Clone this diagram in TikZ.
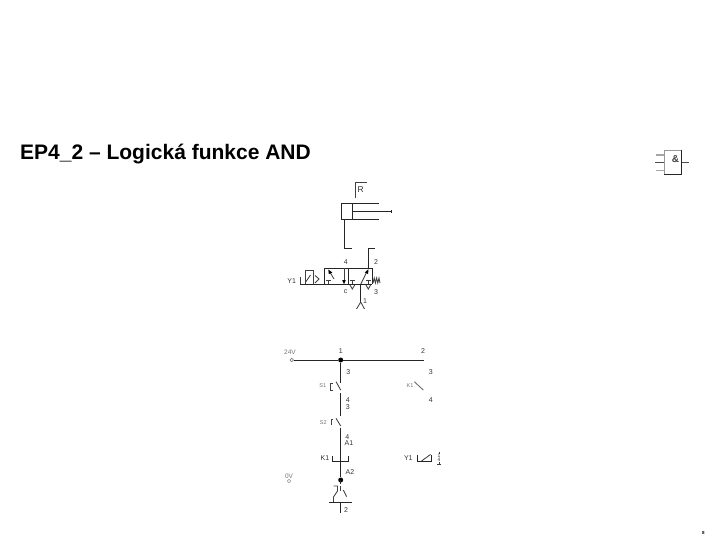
\documentclass[tikz,border=0pt]{standalone}
\usepackage{fontspec}
\setmainfont{Liberation Sans}
\tikzset{
  wire/.style={line width=1pt,color=black!85},
  thin wire/.style={line width=0.85pt,color=black!75},
  lbl/.style={inner sep=0pt,font=\fontsize{7}{8}\selectfont,text=black!80},
  faint/.style={inner sep=0pt,font=\fontsize{5.5}{6}\selectfont,text=black!55},
  junction/.style={circle,fill=black,inner sep=0pt,minimum size=5pt},
}
\begin{document}
\begin{tikzpicture}[x=1pt,y=-1pt]
\useasboundingbox (0,0) rectangle (720,540);
\node[anchor=west,inner sep=0pt,font=\fontsize{21}{24}\selectfont\bfseries] (title) at (20,154) {EP4\_2 – Logická funkce AND};
% AND gate
\draw[line width=1.2pt,color=black!35] (656,155) -- (664.3,155) (656,170.7) -- (664.3,170.7);
\draw[line width=1.2pt,color=black!70] (655,162.7) -- (664.3,162.7);
\draw[line width=1.2pt,color=black!70] (681,162.7) -- (689,162.7);
\draw[line width=0.8pt,color=black!40] (664.3,175) -- (664.3,150) -- (681,150);
\draw[line width=1pt,color=black!85] (681,150) -- (681,175) -- (664.3,175);
\node[inner sep=0pt,font=\fontsize{10}{11}\selectfont\bfseries,text=black!75] (andsign) at (675.5,159) {\&};
% cylinder
\draw[thin wire] (355.3,197.7) -- (355.3,182) -- (366.7,182);
\node[lbl,font=\fontsize{8.5}{9}\selectfont] (rlabel) at (360.7,189.7) {R};
\draw[wire] (379,204) -- (341.3,204) -- (341.3,219.3) -- (379,219.3);
\draw[wire] (352.7,204) -- (352.7,219.3);
\draw[wire] (352.7,211.7) -- (391.7,211.7) (391.7,210) -- (391.7,213);
\draw[wire] (344,219.3) -- (344,248) -- (351.7,248);
\draw[wire] (368.3,268.3) -- (368.3,248) -- (375.3,248);
% valve
\draw[wire] (300,284.3) -- (372.3,284.3);
\draw[wire] (324.3,284.3) -- (324.3,268.3) -- (372.3,268.3) -- (372.3,284.3);
\draw[wire] (348.3,268.3) -- (348.3,284.3);
\draw[thin wire] (300.7,276.7) -- (300.7,284.3);
\draw[thin wire] (305.7,284.3) -- (305.7,270.7) -- (313,270.7) -- (313,284.3);
\draw[thin wire] (305.7,282) -- (310.5,275);
\draw[thin wire] (315,275.5) -- (319,279) -- (315,283);
\draw[thin wire] (334,279) -- (329.5,271.5);
\fill[black] (328.3,269.5) -- (332.3,272.5) -- (328.8,274.2) -- cycle;
\draw[thin wire] (328.3,284.3) -- (328.3,280) (325.8,280) -- (331,280);
\draw[thin wire] (344,268.3) -- (344,282);
\fill[black] (344,284.3) -- (342.2,280) -- (345.8,280) -- cycle;
\draw[thin wire] (352.3,284.3) -- (352.3,280) (349.8,280) -- (354.8,280);
\draw[thin wire] (350,285) -- (352.3,289) -- (354.8,285);
\draw[thin wire] (360.7,284.3) -- (366.5,272.5);
\fill[black] (368.3,269.3) -- (368.2,274.2) -- (364.8,272.5) -- cycle;
\draw[thin wire] (368.3,284.3) -- (368.3,280) (365.8,280) -- (370.8,280);
\draw[thin wire] (366,285) -- (368.3,289) -- (370.6,285);
\draw[thin wire] (373,283) -- (374.2,278) -- (375.4,283) -- (376.6,278) -- (377.8,283) -- (379,278) -- (380,283);
\draw[wire] (360.7,284.3) -- (360.7,301.7);
\draw[thin wire] (356.5,309) -- (360.7,302) -- (364.5,309);
\node[lbl] (vy) at (291.7,281) {Y1};
\node[lbl] (vfour) at (345.7,262.3) {4};
\node[lbl] (vtwo) at (376,262.3) {2};
\node[lbl] (vc) at (345.7,291.7) {c};
\node[lbl] (vthree) at (376,291.7) {3};
\node[lbl] (vone) at (365,301) {1};
% electrical
\node[faint,font=\fontsize{6.5}{7}\selectfont] (plus) at (290,352.3) {24V};
\node[draw=black!60,circle,inner sep=0pt,minimum size=3.5pt,line width=.6pt] (term) at (291.7,360) {};
\node[junction] (j1) at (340.7,360) {};
\coordinate (r2) at (424,360);
\draw[wire] (term) -- (j1) -- (r2);
\node[lbl] (a1) at (340.7,351) {1};
\node[lbl] (a2) at (423,351) {2};
\coordinate (s1a) at (340.7,383.3);
\draw[wire] (j1) -- (s1a);
\node[lbl] (s1t) at (348.3,372.3) {3};
\draw[thin wire] (336,381.7) -- (340.7,390);
\draw[thin wire] (333,383.3) -- (330.5,383.3) -- (330.5,390) -- (333,390);
\node[faint] (s1) at (322.7,386) {S1};
\draw[wire] (340.7,393) -- (340.7,416);
\node[lbl] (s1b) at (347.7,400) {4};
\node[lbl] (s2t) at (347.7,407.3) {3};
\draw[thin wire] (336,418.3) -- (340.7,426);
\draw[thin wire] (331,425) -- (331,419.3) -- (333.3,419.3);
\node[faint] (s2) at (323.3,422.3) {S2};
\draw[wire] (340.7,427.7) -- (340.7,461.7);
\node[lbl] (s2b) at (347.3,436.7) {4};
\node[lbl] (ca1) at (349,443.3) {A1};
\node[lbl] (k1l) at (325,458.3) {K1};
\draw[wire] (332.7,455.7) -- (332.7,461.7) -- (348.3,461.7) -- (348.3,455.7);
\node[junction] (j2) at (340.7,480) {};
\coordinate (k1b) at (340.7,461.7);
\draw[wire] (k1b) -- (j2);
\node[lbl] (ca2) at (350,471.7) {A2};
\node[faint,font=\fontsize{6.5}{7}\selectfont] (zero) at (289,476.7) {0V};
\node[draw=black!40,circle,inner sep=0pt,minimum size=3.5pt,line width=.6pt] (term0) at (289,481) {};
\draw[wire] (340.7,480) -- (340.7,484);
\draw[thin wire] (340.7,486) -- (340.7,491);
\draw[thin wire] (343.3,490) -- (346.7,496.7);
\draw[thin wire] (333.5,486) -- (337.5,486) -- (337.5,491) -- (333.5,497) -- (333.5,502.3);
\draw[wire] (329,502.3) -- (352.3,502.3);
\draw[wire] (340.7,502.3) -- (340.7,513.3);
\node[lbl] (b2) at (346,510) {2};
% K1 contact
\node[lbl] (k3) at (430.7,372.3) {3};
\draw[thin wire,color=black!60] (414.3,381.7) -- (423.3,390);
\node[faint] (k1c) at (410,386) {K1};
\node[lbl] (k4) at (430.7,400) {4};
% Y1 coil
\node[lbl] (y1l) at (408.3,458.3) {Y1};
\draw[wire] (417.3,454.5) -- (417.3,461.7) -- (431.7,461.7) -- (431.7,454.5);
\draw[thin wire] (421.5,461) -- (430.5,454.5);
\draw[thin wire] (439,451.7) -- (439,454) (439,462) -- (439,464.3);
\draw[thin wire] (437,464.3) -- (441,464.3);
\node[lbl,font=\fontsize{5}{5}\selectfont] (y1a) at (439,455.5) {1};
\node[lbl,font=\fontsize{5}{5}\selectfont] (y1b) at (439,460) {4};
\node[inner sep=0pt,font=\fontsize{4.5}{4.5}\selectfont\bfseries] (page) at (703.3,533.3) {8};
\end{tikzpicture}
\end{document}
